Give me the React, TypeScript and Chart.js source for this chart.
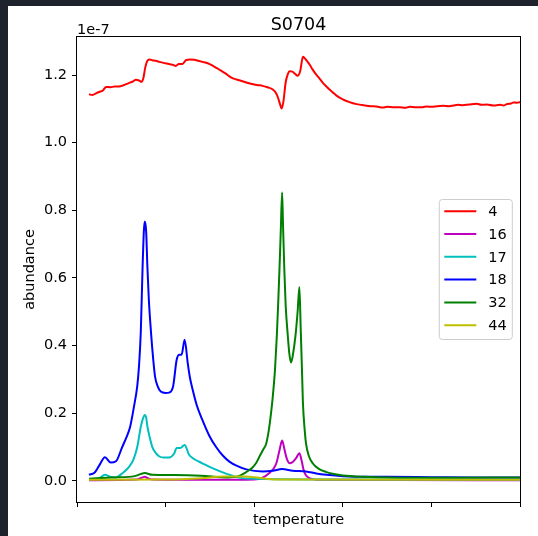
import React, { useEffect, useRef } from "react";
import { Chart, registerables } from "chart.js";

Chart.register(...registerables);

const chartTitle = "S0704";
const xLabel = "temperature";
const yLabel = "abundance";
const offsetLabel = "1e-7";

const seriesLabels = ["4", "16", "17", "18", "32", "44"];
const seriesColors = ["#ff0000", "#bf00bf", "#00bfbf", "#0000ff", "#008000", "#bfbf00"];

const xTicks = [0, 20, 40, 60, 80, 100];
const yTicks = [0, 0.2, 0.4, 0.6, 0.8, 1.0, 1.2];

// series "4"
const x4 = [2.7, 3.5, 4.3, 5.0, 5.8, 6.6, 7.5, 8.5, 9.5, 10.5, 11.8, 12.6, 13.3, 14.0, 14.6, 15.0, 15.4, 16.0, 16.4, 17.0, 17.8, 18.6, 19.5, 20.3, 21.0, 21.7, 22.3, 23.0, 23.8, 24.6, 25.5, 26.5, 27.4, 28.3, 29.5, 30.6, 31.5, 32.5, 33.5, 34.4, 35.2, 36.0, 37.0, 38.2, 39.0, 40.0, 41.0, 41.9, 43.0, 44.2, 45.0, 45.4, 45.9, 46.2, 46.6, 47.1, 47.6, 48.0, 48.6, 49.2, 49.8, 50.4, 51.0, 51.4, 52.0, 52.5, 53.2, 54.0, 54.8, 55.5, 56.3, 57.0, 57.8, 58.5, 59.2, 60.0, 61.5, 63.1, 65.0, 66.3, 67.6, 69.0, 70.0, 71.5, 72.9, 74.0, 75.1, 76.5, 78.0, 79.0, 80.0, 81.3, 82.6, 84.0, 85.0, 86.0, 87.0, 88.5, 90.2, 91.3, 92.5, 94.0, 95.5, 96.3, 97.0, 98.0, 98.5, 99.3, 100];
const y4 = [1.143, 1.141, 1.146, 1.150, 1.154, 1.165, 1.164, 1.166, 1.166, 1.170, 1.177, 1.181, 1.186, 1.184, 1.180, 1.192, 1.222, 1.244, 1.246, 1.244, 1.242, 1.239, 1.236, 1.234, 1.232, 1.230, 1.227, 1.233, 1.233, 1.244, 1.246, 1.245, 1.242, 1.239, 1.235, 1.228, 1.221, 1.213, 1.205, 1.196, 1.190, 1.187, 1.183, 1.178, 1.175, 1.172, 1.170, 1.168, 1.164, 1.157, 1.145, 1.132, 1.111, 1.101, 1.122, 1.178, 1.203, 1.211, 1.210, 1.204, 1.198, 1.213, 1.254, 1.250, 1.240, 1.231, 1.216, 1.201, 1.189, 1.177, 1.166, 1.157, 1.148, 1.140, 1.134, 1.128, 1.120, 1.114, 1.110, 1.108, 1.107, 1.104, 1.106, 1.105, 1.105, 1.103, 1.106, 1.105, 1.105, 1.107, 1.106, 1.108, 1.109, 1.108, 1.110, 1.112, 1.111, 1.113, 1.115, 1.112, 1.113, 1.110, 1.112, 1.110, 1.114, 1.116, 1.119, 1.118, 1.120];

// series "16"
const x16 = [2.7, 13.5, 14.6, 15.3, 16.0, 17.0, 30.0, 40.0, 42.0, 43.5, 44.3, 45.0, 45.7, 46.3, 46.8, 47.3, 48.0, 48.7, 49.5, 50.2, 50.7, 51.1, 51.6, 52.5, 55.0, 100];
const y16 = [0.002, 0.004, 0.009, 0.012, 0.008, 0.004, 0.003, 0.004, 0.010, 0.024, 0.035, 0.052, 0.090, 0.119, 0.095, 0.068, 0.052, 0.056, 0.068, 0.082, 0.060, 0.035, 0.018, 0.008, 0.003, 0.002];

// series "17"
const x17 = [2.7, 5.0, 6.3, 7.5, 8.8, 10.0, 11.8, 12.8, 13.6, 14.4, 14.9, 15.3, 15.6, 15.9, 16.4, 17.0, 17.8, 18.6, 19.5, 20.8, 21.9, 22.5, 23.3, 24.3, 25.3, 26.5, 28.3, 29.8, 31.4, 32.9, 34.4, 36.0, 40.0, 60.0, 100];
const y17 = [0.005, 0.008, 0.018, 0.012, 0.010, 0.020, 0.042, 0.065, 0.100, 0.160, 0.185, 0.195, 0.188, 0.160, 0.130, 0.100, 0.082, 0.072, 0.069, 0.069, 0.080, 0.097, 0.097, 0.106, 0.077, 0.064, 0.052, 0.042, 0.033, 0.025, 0.018, 0.011, 0.006, 0.004, 0.004];

// series "18"
const x18 = [2.7, 4.0, 5.0, 6.3, 7.6, 8.8, 10.2, 11.2, 12.0, 12.8, 13.6, 14.0, 14.4, 14.8, 15.1, 15.3, 15.6, 15.9, 16.2, 16.7, 17.2, 17.6, 18.2, 18.9, 20.0, 20.8, 21.7, 22.5, 23.1, 23.6, 24.3, 25.0, 25.5, 26.1, 27.0, 28.3, 29.8, 31.4, 32.9, 34.4, 36.0, 38.2, 41.9, 44.2, 46.3, 48.7, 51.7, 54.0, 56.3, 60.0, 70.0, 80.0, 90.0, 100];
const y18 = [0.018, 0.025, 0.045, 0.070, 0.054, 0.058, 0.100, 0.130, 0.160, 0.215, 0.280, 0.340, 0.440, 0.630, 0.740, 0.767, 0.740, 0.630, 0.540, 0.440, 0.360, 0.310, 0.280, 0.264, 0.260, 0.261, 0.280, 0.358, 0.373, 0.373, 0.417, 0.348, 0.305, 0.270, 0.225, 0.180, 0.135, 0.100, 0.075, 0.057, 0.045, 0.034, 0.028, 0.030, 0.035, 0.030, 0.028, 0.022, 0.018, 0.014, 0.012, 0.011, 0.010, 0.010];

// series "32"
const x32 = [2.7, 8.0, 13.0, 15.3, 17.0, 22.0, 28.0, 34.0, 36.5, 38.2, 39.5, 40.4, 41.2, 42.0, 42.7, 43.3, 43.8, 44.2, 44.7, 45.1, 45.4, 45.7, 46.0, 46.3, 46.5, 46.8, 47.1, 47.6, 47.9, 48.3, 48.7, 49.3, 49.8, 50.2, 50.5, 50.8, 51.0, 51.4, 51.7, 52.3, 53.2, 54.5, 56.3, 58.0, 60.0, 65.0, 70.0, 85.0, 100];
const y32 = [0.006, 0.010, 0.014, 0.023, 0.018, 0.017, 0.015, 0.010, 0.014, 0.026, 0.038, 0.052, 0.072, 0.092, 0.110, 0.150, 0.200, 0.250, 0.330, 0.427, 0.520, 0.624, 0.740, 0.853, 0.760, 0.624, 0.520, 0.427, 0.380, 0.350, 0.370, 0.427, 0.500, 0.573, 0.450, 0.320, 0.230, 0.150, 0.110, 0.075, 0.052, 0.036, 0.026, 0.020, 0.016, 0.012, 0.010, 0.009, 0.010];

// series "44"
const x44 = [2.7, 20.0, 28.0, 33.0, 38.0, 41.0, 45.0, 100];
const y44 = [0.003, 0.004, 0.008, 0.013, 0.013, 0.009, 0.004, 0.003];

const seriesX = [x4, x16, x17, x18, x32, x44];
const seriesY = [y4, y16, y17, y18, y32, y44];

const FONT = "'DejaVu Sans', sans-serif";

const decorPlugin = {
  id: "decor",
  afterDatasetsDraw(chart: any) {
    const { ctx, chartArea } = chart;
    const { left, right, top, bottom } = chartArea;
    ctx.save();
    // frame
    ctx.strokeStyle = "#000";
    ctx.lineWidth = 1;
    ctx.strokeRect(Math.round(left) - 0.5, Math.round(top) - 0.5, Math.round(right - left) + 1, Math.round(bottom - top) + 1);

    // legend (center right)
    const boxW = 73;
    const boxH = 140;
    const bx = right - 7.7 - boxW;
    const by = (top + bottom) / 2 - boxH / 2;
    const r = 3;
    ctx.beginPath();
    ctx.moveTo(bx + r, by);
    ctx.lineTo(bx + boxW - r, by);
    ctx.arcTo(bx + boxW, by, bx + boxW, by + r, r);
    ctx.lineTo(bx + boxW, by + boxH - r);
    ctx.arcTo(bx + boxW, by + boxH, bx + boxW - r, by + boxH, r);
    ctx.lineTo(bx + r, by + boxH);
    ctx.arcTo(bx, by + boxH, bx, by + boxH - r, r);
    ctx.lineTo(bx, by + r);
    ctx.arcTo(bx, by, bx + r, by, r);
    ctx.closePath();
    ctx.fillStyle = "rgba(255,255,255,0.8)";
    ctx.fill();
    ctx.strokeStyle = "#cccccc";
    ctx.lineWidth = 1;
    ctx.stroke();

    ctx.font = `14.5px ${FONT}`;
    ctx.textBaseline = "middle";
    ctx.textAlign = "left";
    chart.data.datasets.forEach((ds: any, i: number) => {
      const yy = by + 11.7 + i * 22.8;
      ctx.strokeStyle = ds.borderColor;
      ctx.lineWidth = 2;
      ctx.beginPath();
      ctx.moveTo(bx + 5, yy);
      ctx.lineTo(bx + 37, yy);
      ctx.stroke();
      ctx.fillStyle = "#000";
      ctx.fillText(ds.label, bx + 49, yy + 1);
    });

    // title and offset text
    ctx.fillStyle = "#000";
    ctx.textBaseline = "alphabetic";
    ctx.textAlign = "center";
    ctx.font = `17.5px ${FONT}`;
    ctx.fillText(chartTitle, (left + right) / 2, top - 7.5);
    ctx.textAlign = "left";
    ctx.font = `14.5px ${FONT}`;
    ctx.fillText(offsetLabel, left, top - 3.5);
    ctx.restore();
  },
};

export default function App() {
  const canvasRef = useRef<HTMLCanvasElement | null>(null);

  useEffect(() => {
    const canvas = canvasRef.current;
    if (!canvas) return;
    const font = { family: FONT, size: 14.5 };
    const datasets = seriesLabels.map((label, i) => ({
      label,
      data: seriesX[i].map((x, j) => ({ x, y: seriesY[i][j] })),
      borderColor: seriesColors[i],
      backgroundColor: seriesColors[i],
      borderWidth: 2,
      pointRadius: 0,
      fill: false,
      cubicInterpolationMode: "monotone" as const,
      order: seriesLabels.length - 1 - i,
    }));
    const chart = new Chart(canvas, {
      type: "line",
      data: { datasets },
      options: {
        responsive: false,
        animation: false,
        devicePixelRatio: 1,
        layout: { padding: { left: 0, right: 18, top: 31, bottom: 0 } },
        plugins: {
          legend: { display: false },
          tooltip: { enabled: false },
          title: { display: false },
        },
        scales: {
          x: {
            type: "linear",
            min: 0,
            max: 100,
            afterBuildTicks: (s: any) => {
              s.ticks = xTicks.map((v) => ({ value: v }));
            },
            afterFit: (s: any) => {
              s.height = 34;
            },
            ticks: { callback: () => "", padding: 0, font },
            grid: { drawOnChartArea: false, drawTicks: true, tickLength: 5, color: "#000", lineWidth: 1 },
            border: { display: false },
            title: { display: true, text: xLabel, font, color: "#000", padding: { top: 0, bottom: 7 } },
          },
          y: {
            type: "linear",
            min: -0.0625,
            max: 1.3125,
            afterBuildTicks: (s: any) => {
              s.ticks = yTicks.map((v) => ({ value: v }));
            },
            afterFit: (s: any) => {
              s.width = 69;
            },
            ticks: { callback: (v: any) => Number(v).toFixed(1), padding: 5, font, color: "#000" },
            grid: { drawOnChartArea: false, drawTicks: true, tickLength: 5, color: "#000", lineWidth: 1 },
            border: { display: false },
            title: { display: true, text: yLabel, font, color: "#000", padding: { top: 14, bottom: 0 } },
          },
        },
      },
      plugins: [decorPlugin],
    });
    return () => chart.destroy();
  }, []);

  return (
    <div style={{ position: "absolute", left: 0, top: 0, width: 538, height: 536, background: "#1e222c", overflow: "hidden" }}>
      <div style={{ position: "absolute", left: 8, top: 6, width: 530, height: 530, background: "#ffffff" }}>
        <canvas ref={canvasRef} width={530} height={530} style={{ display: "block", width: 530, height: 530 }} />
      </div>
    </div>
  );
}
